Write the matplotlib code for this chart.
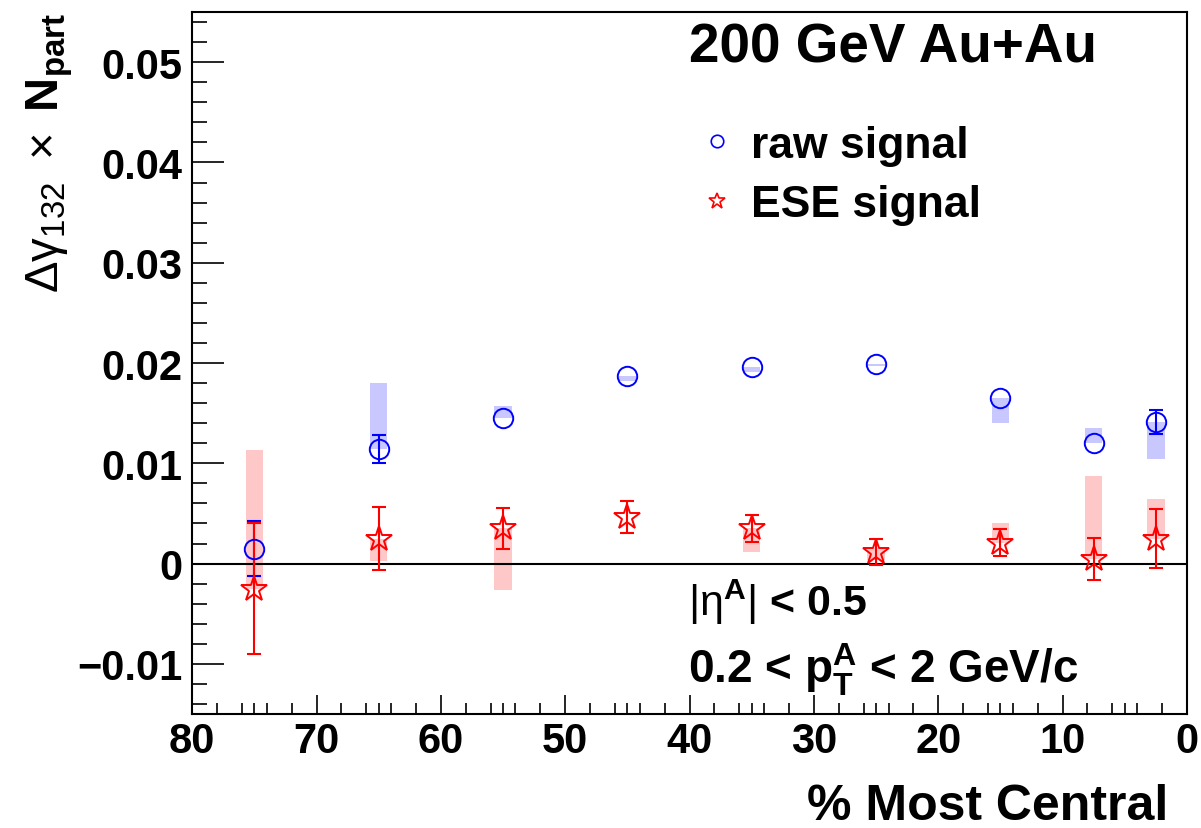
import matplotlib
matplotlib.use('Agg')
import matplotlib.pyplot as plt
from matplotlib.lines import Line2D
from matplotlib.ticker import MultipleLocator, FixedLocator, FuncFormatter

plt.rcParams['font.family'] = ['Liberation Sans', 'DejaVu Sans']
plt.rcParams['font.weight'] = 'bold'
plt.rcParams['mathtext.fontset'] = 'custom'
plt.rcParams['mathtext.rm'] = 'Liberation Sans:weight=normal'
plt.rcParams['mathtext.it'] = 'Liberation Sans:italic:weight=normal'
plt.rcParams['mathtext.bf'] = 'Liberation Sans:bold'

# centrality bin centres (% most central)
centrality = [75, 65, 55, 45, 35, 25, 15, 7.5, 2.5]

# raw signal: value, stat error, one-sided systematic boxes
raw = [0.0015, 0.0114, 0.0145, 0.0187, 0.0196, 0.0199, 0.0165, 0.0120, 0.0141]
raw_stat = [0.0027, 0.0014, 0.0005, 0.0004, 0.0004, 0.0004, 0.0006, 0.0005, 0.0012]
raw_sys_lo = [0, 0, 0, 0.0005, 0.0005, 0.0002, 0.0025, 0, 0.0037]
raw_sys_hi = [0, 0.0066, 0.0012, 0, 0, 0, 0, 0.0015, 0]

# ESE signal
ese = [-0.0025, 0.0025, 0.0035, 0.0046, 0.0035, 0.0012, 0.0021, 0.0005, 0.0025]
ese_stat = [0.0065, 0.0031, 0.0020, 0.0016, 0.0013, 0.0013, 0.0013, 0.0021, 0.0029]
ese_sys_lo = [0, 0.0022, 0.0061, 0, 0.0023, 0.0008, 0, 0, 0]
ese_sys_hi = [0.0138, 0, 0, 0, 0, 0.0004, 0.0019, 0.0082, 0.0039]

blue = '#0000ff'
red = '#ff0000'

fig = plt.figure(figsize=(12.01, 8.29), dpi=100)
ax = fig.add_axes([0.160, 0.1375, 0.8283, 0.8468])

# systematic boxes
ax.bar(centrality, [l + h for l, h in zip(raw_sys_lo, raw_sys_hi)],
       bottom=[v - l for v, l in zip(raw, raw_sys_lo)], width=1.4,
       color='#c8c8ff', linewidth=0, zorder=1)
ax.bar(centrality, [l + h for l, h in zip(ese_sys_lo, ese_sys_hi)],
       bottom=[v - l for v, l in zip(ese, ese_sys_lo)], width=1.4,
       color='#ffc8c8', linewidth=0, zorder=1)

ax.axhline(0, color='black', lw=1.5, zorder=2)


def draw(vals, errs, color, marker, ms):
    # like ROOT: error bars hidden when smaller than the marker
    xs = [c for c, e in zip(centrality, errs) if e > 0.0009]
    ys = [v for v, e in zip(vals, errs) if e > 0.0009]
    es = [e for e in errs if e > 0.0009]
    ax.errorbar(xs, ys, yerr=es, fmt='none', ecolor=color, elinewidth=1.5,
                capsize=5, capthick=1.5, zorder=3)
    ax.plot(centrality, vals, linestyle='none', marker=marker, ms=ms,
            mfc='none', mec=color, mew=1.4, zorder=4)


draw(raw, raw_stat, blue, 'o', 14)
draw(ese, ese_stat, red, '*', 19)

ax.set_xlim(80, 0)
ax.set_ylim(-0.015, 0.055)

ax.xaxis.set_major_locator(MultipleLocator(10))
ax.xaxis.set_minor_locator(FixedLocator([v for v in range(0, 81) if v % 10 in (2, 4, 5, 6, 8)]))
ax.yaxis.set_major_locator(MultipleLocator(0.01))
ax.yaxis.set_minor_locator(MultipleLocator(0.002))


def fmt(v, p):
    v = round(v, 4)
    if abs(v) < 1e-9:
        return '0'
    return f'{v:g}'.replace('-', '\u2212')


ax.xaxis.set_major_formatter(FuncFormatter(fmt))
ax.yaxis.set_major_formatter(FuncFormatter(fmt))

ax.tick_params(axis='both', which='both', direction='in', top=False, right=False,
               labelsize=30, width=1.2)
ax.tick_params(axis='y', which='major', length=23, pad=7)
ax.tick_params(axis='y', which='minor', length=11)
ax.tick_params(axis='x', which='major', length=14, pad=5)
ax.tick_params(axis='x', which='minor', length=8)
for s in ax.spines.values():
    s.set_linewidth(1.5)

fig.text(0.5737, 0.925, '200 GeV Au+Au', fontsize=39.5, va='baseline', ha='left')

handles = [Line2D([], [], ls='none', marker='o', ms=9, mfc='none', mec=blue, mew=1.2),
           Line2D([], [], ls='none', marker='*', ms=12, mfc='none', mec=red, mew=1.2)]
fig.legend(handles, ['raw signal', 'ESE signal'], loc='center left',
           bbox_to_anchor=(0.5795, 1 - 176 / 829), frameon=False, fontsize=32,
           handlelength=0.95, handletextpad=0.28, labelspacing=0.42,
           borderpad=0, borderaxespad=0)

fig.text(688 / 1201, 1 - 616 / 829, r'$|\mathrm{\eta}^{\mathbf{A}}|$ < 0.5',
         fontsize=31, va='baseline', ha='left')
fig.text(688 / 1201, 1 - 684 / 829,
         r'0.2 < $\mathbf{p}_{\mathbf{T}}^{\mathbf{A}}$ < 2 GeV/c',
         fontsize=33, va='baseline', ha='left')

fig.text(50 / 1201, 1 - 13 / 829,
         r'$\mathrm{\Delta\gamma}_{132}\ \times\ \mathbf{N}_{\mathbf{part}}$',
         fontsize=34, rotation=90, va='top', ha='center')
fig.text(1168 / 1201, 1 - 820 / 829, '% Most Central', fontsize=36,
         va='baseline', ha='right')

fig.savefig('out.png', dpi=100)
